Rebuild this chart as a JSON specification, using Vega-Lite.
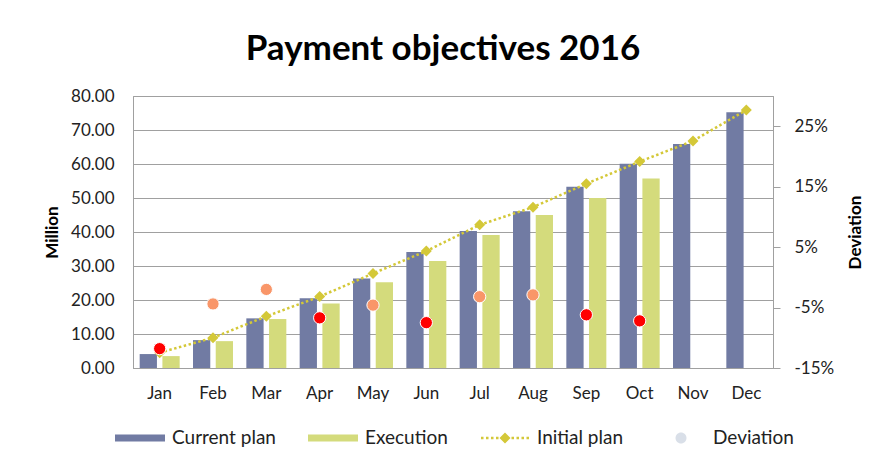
{
  "$schema": "https://vega.github.io/schema/vega-lite/v6.json",
  "width": 640,
  "height": 272,
  "autosize": {"type": "none"},
  "padding": {"left": 133, "top": 96, "right": 107, "bottom": 93},
  "background": "white",
  "config": {
    "font": "Lato",
    "view": {"stroke": "#A0A0A0", "strokeWidth": 1}
  },
  "title": {
    "text": "Payment objectives 2016",
    "font": "Lato",
    "fontSize": 35,
    "fontWeight": "bold",
    "color": "#000000",
    "anchor": "middle",
    "dx": -10,
    "offset": 20
  },
  "datasets": {
    "bars": [
      {"month": "Jan", "series": "Current plan", "value": 4.1},
      {"month": "Jan", "series": "Execution", "value": 3.5},
      {"month": "Feb", "series": "Current plan", "value": 8.2},
      {"month": "Feb", "series": "Execution", "value": 7.9},
      {"month": "Mar", "series": "Current plan", "value": 14.6},
      {"month": "Mar", "series": "Execution", "value": 14.4},
      {"month": "Apr", "series": "Current plan", "value": 20.5},
      {"month": "Apr", "series": "Execution", "value": 19.0},
      {"month": "May", "series": "Current plan", "value": 26.3},
      {"month": "May", "series": "Execution", "value": 25.2},
      {"month": "Jun", "series": "Current plan", "value": 34.1},
      {"month": "Jun", "series": "Execution", "value": 31.5},
      {"month": "Jul", "series": "Current plan", "value": 40.3},
      {"month": "Jul", "series": "Execution", "value": 39.1},
      {"month": "Aug", "series": "Current plan", "value": 46.1},
      {"month": "Aug", "series": "Execution", "value": 45.0},
      {"month": "Sep", "series": "Current plan", "value": 53.3},
      {"month": "Sep", "series": "Execution", "value": 50.0},
      {"month": "Oct", "series": "Current plan", "value": 60.1},
      {"month": "Oct", "series": "Execution", "value": 55.7},
      {"month": "Nov", "series": "Current plan", "value": 65.9},
      {"month": "Dec", "series": "Current plan", "value": 75.2}
    ],
    "monthly": [
      {"month": "Jan", "initial": 4.5, "deviation": -0.118},
      {"month": "Feb", "initial": 8.9, "deviation": -0.044},
      {"month": "Mar", "initial": 15.2, "deviation": -0.020},
      {"month": "Apr", "initial": 21.0, "deviation": -0.067},
      {"month": "May", "initial": 27.8, "deviation": -0.046},
      {"month": "Jun", "initial": 34.4, "deviation": -0.075},
      {"month": "Jul", "initial": 42.1, "deviation": -0.032},
      {"month": "Aug", "initial": 47.3, "deviation": -0.029},
      {"month": "Sep", "initial": 54.2, "deviation": -0.062},
      {"month": "Oct", "initial": 60.7, "deviation": -0.072},
      {"month": "Nov", "initial": 66.8, "deviation": null},
      {"month": "Dec", "initial": 75.9, "deviation": null}
    ]
  },
  "layer": [
    {
      "layer": [
        {
          "data": {"name": "bars"},
          "mark": {"type": "bar"},
          "encoding": {
            "x": {
              "field": "month",
              "type": "nominal",
              "scale": {
                "domain": ["Jan", "Feb", "Mar", "Apr", "May", "Jun", "Jul", "Aug", "Sep", "Oct", "Nov", "Dec"],
                "paddingInner": 0.25,
                "paddingOuter": 0.125
              },
              "axis": {
                "title": null,
                "labelAngle": 0,
                "ticks": false,
                "labelPadding": 17,
                "labelFontSize": 17,
                "labelColor": "#222222",
                "domainColor": "#A0A0A0",
                "domainWidth": 1,
                "grid": false
              }
            },
            "xOffset": {
              "field": "series",
              "type": "nominal",
              "scale": {"domain": ["Current plan", "Execution"], "paddingInner": 0.24, "paddingOuter": 0}
            },
            "y": {
              "field": "value",
              "type": "quantitative",
              "scale": {"domain": [0, 80], "nice": false},
              "axis": {
                "title": "Million",
                "titleFontSize": 17,
                "titleFontWeight": "bold",
                "titleColor": "#000000",
                "titleAngle": -90,
                "titleAlign": "center",
                "titleBaseline": "middle",
                "titleX": -81,
                "titleY": 136,
                "values": [0, 10, 20, 30, 40, 50, 60, 70, 80],
                "tickCount": 20,
                "labelOverlap": false,
                "format": ".2f",
                "ticks": false,
                "labelPadding": 19,
                "labelFontSize": 17,
                "labelColor": "#222222",
                "grid": true,
                "gridColor": "#A0A0A0",
                "gridWidth": 1,
                "domainColor": "#A0A0A0",
                "domainWidth": 1
              }
            },
            "color": {
              "field": "series",
              "type": "nominal",
              "scale": {
                "domain": ["Current plan", "Execution", "Initial plan", "Deviation"],
                "range": ["#717BA3", "#D4DB7C", "#D4C838", "#D9DFE8"]
              },
              "legend": {
                "title": null,
                "orient": "none",
                "direction": "horizontal",
                "legendX": -18,
                "legendY": 317,
                "padding": 0,
                "symbolSize": 2500,
                "symbolStrokeWidth": 0,
                "labelFontSize": 19,
                "labelColor": "#222222",
                "labelOffset": 7,
                "columnPadding": 32,
                "encode": {
                  "symbols": {
                    "update": {
                      "shape": {"signal": "(datum.value === 'Current plan' || datum.value === 'Execution') ? 'M-1,-0.14H1V0.14H-1Z' : (datum.value === 'Initial plan' ? 'M-0.96,-0.05h0.1v0.1h-0.1Z M-0.76,-0.05h0.1v0.1h-0.1Z M-0.56,-0.05h0.1v0.1h-0.1Z M-0.36,-0.05h0.1v0.1h-0.1Z M0.26,-0.05h0.1v0.1h-0.1Z M0.46,-0.05h0.1v0.1h-0.1Z M0.66,-0.05h0.1v0.1h-0.1Z M0.86,-0.05h0.1v0.1h-0.1Z M0,-0.22L0.22,0L0,0.22L-0.22,0Z' : 'M0.22,0A0.22,0.22 0 1,1 -0.22,0A0.22,0.22 0 1,1 0.22,0Z')"},
                      "fill": {"signal": "datum.value === 'Current plan' ? '#717BA3' : (datum.value === 'Execution' ? '#D4DB7C' : (datum.value === 'Initial plan' ? '#D4C838' : '#D9DFE8'))"},
                      "stroke": {"value": "transparent"},
                      "strokeWidth": {"value": 0},
                      "opacity": {"value": 1}
                    }
                  }
                }
              }
            }
          }
        },
        {
          "data": {"name": "monthly"},
          "mark": {
            "type": "line",
            "color": "#D4C838",
            "strokeWidth": 2.5,
            "strokeDash": [2.5, 2.5],
            "point": {"shape": "diamond", "size": 121, "filled": true, "color": "#D4C838", "opacity": 1}
          },
          "encoding": {
            "x": {"field": "month", "type": "nominal"},
            "y": {
              "field": "initial",
              "type": "quantitative",
              "axis": {
                "title": "Million",
                "values": [0, 10, 20, 30, 40, 50, 60, 70, 80],
                "tickCount": 20,
                "labelOverlap": false,
                "format": ".2f",
                "ticks": false,
                "grid": true
              }
            }
          }
        }
      ]
    },
    {
      "data": {"name": "monthly"},
      "mark": {"type": "circle", "size": 150, "opacity": 1, "stroke": "#FFFFFF", "strokeWidth": 1},
      "encoding": {
        "x": {"field": "month", "type": "nominal"},
        "y": {
          "field": "deviation",
          "type": "quantitative",
          "scale": {"domain": [-0.15, 0.30], "nice": false, "zero": false},
          "axis": {
            "orient": "right",
            "title": "Deviation",
            "titleFontSize": 17,
            "titleFontWeight": "bold",
            "titleColor": "#000000",
            "titleAngle": -90,
            "titleAlign": "center",
            "titleBaseline": "middle",
            "titleX": 82,
            "titleY": 136,
            "values": [-0.15, -0.05, 0.05, 0.15, 0.25],
            "tickCount": 20,
            "labelOverlap": false,
            "format": ".0%",
            "labelExpr": "replace(datum.label, '\u2212', '-')",
            "ticks": true,
            "tickSize": 7,
            "tickColor": "#A0A0A0",
            "labelPadding": 14,
            "labelFontSize": 17,
            "labelColor": "#222222",
            "grid": false,
            "domainColor": "#A0A0A0",
            "domainWidth": 1
          }
        },
        "color": {
          "condition": {"test": "datum.deviation < -0.05", "value": "#FF0000"},
          "value": "#F99669"
        }
      }
    }
  ],
  "resolve": {"scale": {"y": "independent"}}
}
